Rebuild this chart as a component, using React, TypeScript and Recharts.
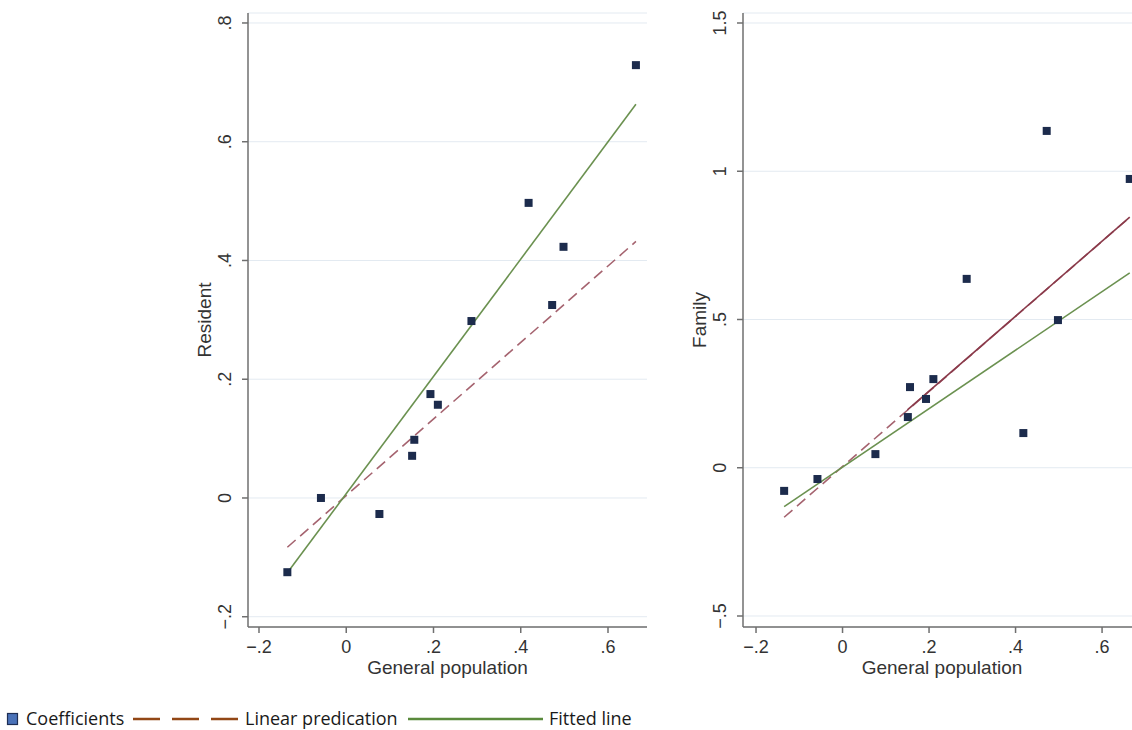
import React from 'react';
import { ScatterChart, Scatter, XAxis, YAxis, CartesianGrid } from 'recharts';

// ---- data ----
const generalPopulation = [-0.135, -0.058, 0.076, 0.151, 0.156, 0.193, 0.21, 0.287, 0.418, 0.472, 0.498, 0.664];
const resident = [-0.125, 0.0, -0.027, 0.071, 0.098, 0.175, 0.157, 0.298, 0.497, 0.325, 0.423, 0.729];
const family = [-0.078, -0.038, 0.046, 0.171, 0.272, 0.232, 0.299, 0.637, 0.117, 1.136, 0.498, 0.974];

const lineX = [-0.135, 0.664];
const residentFitted = [-0.126, 0.663];
const residentLinear = [-0.083, 0.432];
const familyFitted = [-0.131, 0.657];
const familyLinear = [-0.167, 0.845];
const familyLinearSolidX = [0.15, 0.664];
const familyLinearSolid = [0.195, 0.845];

const xTicks = [-0.2, 0, 0.2, 0.4, 0.6];
const residentTicks = [-0.2, 0, 0.2, 0.4, 0.6, 0.8];
const familyTicks = [-0.5, 0, 0.5, 1, 1.5];

const legendLabels = ['Coefficients', 'Linear predication', 'Fitted line'];

// ---- helpers ----
const pts = (xs: number[], ys: number[]) => xs.map((x, i) => ({ x, y: ys[i] }));

const fmt = (v: number) => {
  if (v === 0) return '0';
  const s = String(Math.abs(v)).replace(/^0(?=\.)/, '');
  return (v < 0 ? '\u2212' : '') + s;
};

const TICK_FONT = '"Liberation Sans", Arial, sans-serif';
const AXIS_COLOR = '#6f6f6f';
const TEXT_COLOR = '#333333';
const GREEN = '#6b9150';
const MAUVE = '#a5636f';
const MAROON = '#8a3a4a';
const NAVY = '#1c2b4c';

const XTick = (props: any) => {
  const { x, y, payload } = props;
  return (
    <text x={x} y={y + 18} textAnchor="middle" fontSize={18} fill={TEXT_COLOR} fontFamily={TICK_FONT}>
      {fmt(payload.value)}
    </text>
  );
};

const YTick = (props: any) => {
  const { x, y, payload } = props;
  const bx = x - 9;
  return (
    <text x={bx} y={y} transform={`rotate(-90 ${bx} ${y})`} textAnchor="middle" fontSize={18} fill={TEXT_COLOR} fontFamily={TICK_FONT}>
      {fmt(payload.value)}
    </text>
  );
};

const xLabel = (props: any) => {
  const vb = props.viewBox;
  return (
    <text x={vb.x + vb.width / 2} y={vb.y + 47} textAnchor="middle" fontSize={19} fill={TEXT_COLOR} fontFamily={TICK_FONT}>
      General population
    </text>
  );
};

const yLabel = (text: string) => (props: any) => {
  const vb = props.viewBox;
  const bx = vb.x + vb.width - 37;
  const cy = vb.y + vb.height / 2;
  return (
    <text x={bx} y={cy} transform={`rotate(-90 ${bx} ${cy})`} textAnchor="middle" fontSize={19} fill={TEXT_COLOR} fontFamily={TICK_FONT}>
      {text}
    </text>
  );
};

const Square = (props: any) => {
  const { cx, cy } = props;
  if (cx == null || cy == null) return <g />;
  return <rect x={cx - 4} y={cy - 4} width={8} height={8} fill={NAVY} />;
};

const NoShape = () => <g />;

interface PanelProps {
  width: number;
  yAxisWidth: number;
  xDomain: [number, number];
  yDomain: [number, number];
  yTicks: number[];
  yTitle: string;
  ys: number[];
  fitted: number[];
  linear: number[];
  extra?: React.ReactNode;
}

const Panel = ({ width, yAxisWidth, xDomain, yDomain, yTicks, yTitle, ys, fitted, linear, extra }: PanelProps) => (
  <ScatterChart width={width} height={690} margin={{ top: 13, right: 13, bottom: 0, left: 0 }}>
    <CartesianGrid vertical={false} stroke="#e3eaf1" strokeWidth={1} />
    <XAxis
      type="number"
      dataKey="x"
      domain={xDomain}
      ticks={xTicks}
      allowDataOverflow
      height={63}
      tickSize={6}
      tick={<XTick />}
      axisLine={{ stroke: AXIS_COLOR, strokeWidth: 1.5 }}
      tickLine={{ stroke: AXIS_COLOR, strokeWidth: 1.5 }}
      label={{ content: xLabel }}
    />
    <YAxis
      type="number"
      dataKey="y"
      domain={yDomain}
      ticks={yTicks}
      allowDataOverflow
      width={yAxisWidth}
      tickSize={6}
      tick={<YTick />}
      axisLine={{ stroke: AXIS_COLOR, strokeWidth: 1.5 }}
      tickLine={{ stroke: AXIS_COLOR, strokeWidth: 1.5 }}
      label={{ content: yLabel(yTitle) }}
    />
    <Scatter
      data={pts(lineX, linear)}
      line={{ stroke: MAUVE, strokeWidth: 1.6, strokeDasharray: '11 6' }}
      shape={NoShape}
      isAnimationActive={false}
    />
    {extra}
    <Scatter
      data={pts(lineX, fitted)}
      line={{ stroke: GREEN, strokeWidth: 1.6 }}
      shape={NoShape}
      isAnimationActive={false}
    />
    <Scatter data={pts(generalPopulation, ys)} shape={Square} isAnimationActive={false} />
  </ScatterChart>
);

const Legend = () => (
  <svg width={660} height={30} style={{ position: 'absolute', left: 0, top: 700 }}>
    <rect x={7.5} y={13.5} width={10} height={11} fill="#4a72b8" stroke="#1e2f55" strokeWidth={1.2} />
    <text x={26} y={25} fontSize={18} fontFamily='"Open Sans", "Noto Sans", sans-serif' fill="#1a1a1a">{legendLabels[0]}</text>
    <line x1={133} y1={19} x2={238} y2={19} stroke="#924716" strokeWidth={2.6} strokeDasharray="27 12" />
    <text x={245} y={25} fontSize={18} fontFamily='"Open Sans", "Noto Sans", sans-serif' fill="#1a1a1a">{legendLabels[1]}</text>
    <line x1={408} y1={19} x2={543} y2={19} stroke="#5a8a3c" strokeWidth={2.6} />
    <text x={549} y={25} fontSize={18} fontFamily='"Open Sans", "Noto Sans", sans-serif' fill="#1a1a1a">{legendLabels[2]}</text>
  </svg>
);

export default function App() {
  return (
    <div style={{ position: 'absolute', left: 0, top: 0, width: 1132, height: 730, overflow: 'hidden', background: '#ffffff' }}>
      <div style={{ position: 'absolute', left: 0, top: 0 }}>
        <Panel
          width={660}
          yAxisWidth={248}
          xDomain={[-0.2252, 0.6894]}
          yDomain={[-0.2173, 0.8168]}
          yTicks={residentTicks}
          yTitle="Resident"
          ys={resident}
          fitted={residentFitted}
          linear={residentLinear}
        />
      </div>
      <div style={{ position: 'absolute', left: 680, top: 0 }}>
        <Panel
          width={474}
          yAxisWidth={63}
          xDomain={[-0.2301, 0.69]}
          yDomain={[-0.5371, 1.5337]}
          yTicks={familyTicks}
          yTitle="Family"
          ys={family}
          fitted={familyFitted}
          linear={familyLinear}
          extra={
            <Scatter
              data={pts(familyLinearSolidX, familyLinearSolid)}
              line={{ stroke: MAROON, strokeWidth: 1.6 }}
              shape={NoShape}
              isAnimationActive={false}
            />
          }
        />
      </div>
      <Legend />
    </div>
  );
}
